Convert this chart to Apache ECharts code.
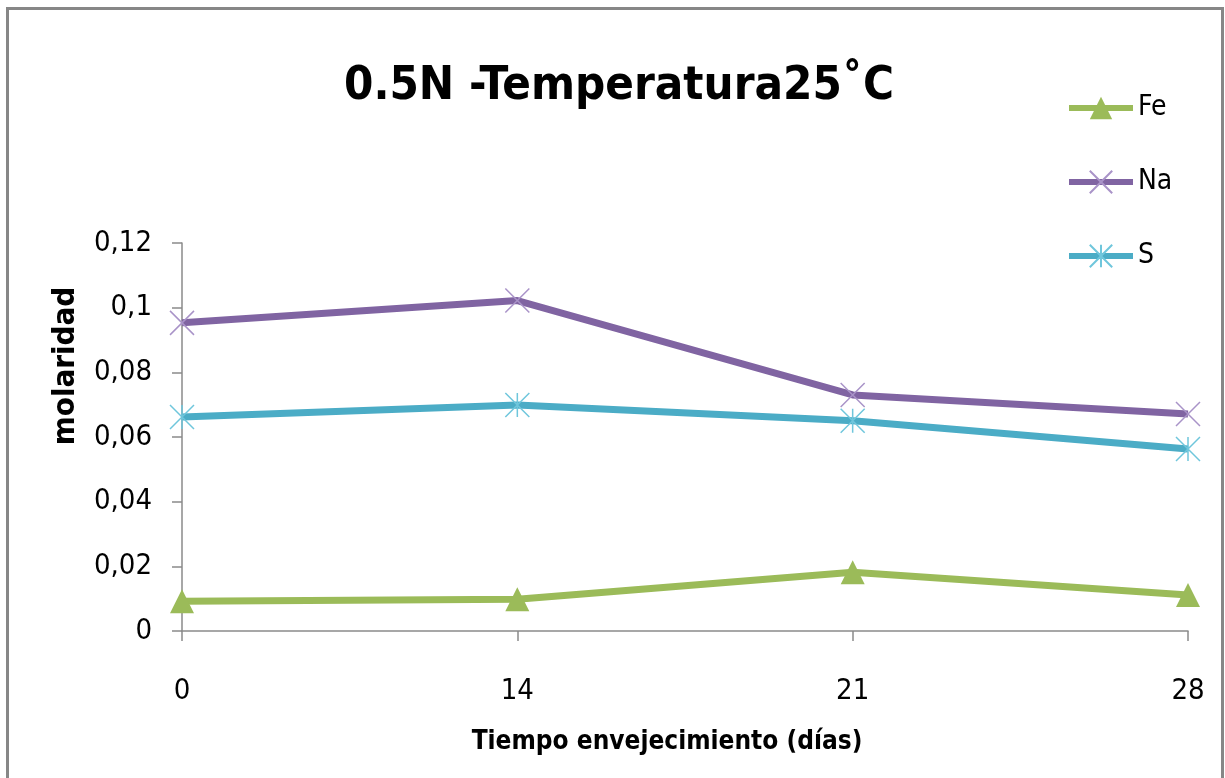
<!DOCTYPE html>
<html><head><meta charset="utf-8">
<script src="https://cdn.jsdelivr.net/npm/echarts@6/dist/echarts.min.js"></script>
<style>html,body{margin:0;padding:0;background:#fff}#c{width:1225px;height:778px}</style>
</head><body><div id="c"></div>
<script>
const categories = ['0', '14', '21', '28'];
const feValues = [0.0092, 0.0098, 0.0182, 0.0111];
const naValues = [0.0953, 0.1022, 0.0730, 0.0671];
const sValues = [0.0662, 0.0699, 0.0650, 0.0563];
const yTicks = [0, 0.02, 0.04, 0.06, 0.08, 0.1, 0.12];
const yLabels = ['0', '0,02', '0,04', '0,06', '0,08', '0,1', '0,12'];

const font = '"DejaVu Sans Condensed", "Open Sans", sans-serif';
const chart = echarts.init(document.getElementById('c'));
const xShape = 'path://M0,0L10,10M10,0L0,10';
const star = 'path://M5,0L5,10M0,0L10,10M10,0L0,10';
chart.setOption({
  animation: false,
  backgroundColor: '#fff',
  title: {
    text: '0.5N -Temperatura25˚C', left: 614, top: 58, textAlign: 'center',
    textStyle: {fontFamily: font, fontSize: 47, fontWeight: 'bold', color: '#000'}
  },
  graphic: [
    {type: 'rect', shape: {x: 7.5, y: 8.5, width: 1215, height: 800},
     style: {fill: 'none', stroke: '#878787', lineWidth: 3}},
    {type: 'text', x: 66, y: 366, rotation: Math.PI / 2,
     style: {text: 'molaridad', fontFamily: font, fontSize: 31, fontWeight: 'bold', fill: '#000',
             align: 'center', verticalAlign: 'middle'}}
  ],
  legend: {
    orient: 'vertical', left: 1061, top: 89, itemWidth: 64, itemHeight: 28, itemGap: 46,
    lineStyle: {width: 6},
    textStyle: {fontFamily: font, fontSize: 28, color: '#000'},
    data: ['Fe', 'Na', 'S']
  },
  grid: {left: 182, right: 37, top: 243, bottom: 147, containLabel: false},
  xAxis: {
    type: 'category', data: categories, boundaryGap: false,
    name: 'Tiempo envejecimiento (días)', nameLocation: 'middle', nameGap: 98,
    nameTextStyle: {fontFamily: font, fontSize: 26, fontWeight: 'bold', color: '#000', padding: [0, 36, 0, 0]},
    axisLine: {lineStyle: {color: '#8a8a8a', width: 1.5}},
    axisTick: {show: true, length: 10, inside: false, alignWithLabel: true, lineStyle: {color: '#8a8a8a', width: 1.5}},
    axisLabel: {fontFamily: font, fontSize: 29, color: '#000', margin: 46}
  },
  yAxis: {
    type: 'value', min: 0, max: 0.12, interval: 0.02,
    axisLine: {show: true, lineStyle: {color: '#8a8a8a', width: 1.5}},
    axisTick: {show: true, length: 10, lineStyle: {color: '#8a8a8a', width: 1.5}},
    splitLine: {show: false},
    axisLabel: {fontFamily: font, fontSize: 29, color: '#000', margin: 30,
      formatter: v => { const i = yTicks.findIndex(t => Math.abs(t - v) < 1e-9); return i >= 0 ? yLabels[i] : ''; }}
  },
  series: [
    {name: 'Fe', type: 'line', data: feValues, symbol: 'triangle', symbolSize: [24, 24],
     lineStyle: {color: '#9bbb59', width: 7}, itemStyle: {color: '#9bbb59', borderWidth: 0}},
    {name: 'Na', type: 'line', data: naValues, symbol: xShape, symbolSize: 24,
     lineStyle: {color: '#8064a2', width: 7}, itemStyle: {color: 'rgba(0,0,0,0)', borderColor: '#a993c8', borderWidth: 1.5}},
    {name: 'S', type: 'line', data: sValues, symbol: star, symbolSize: 24,
     lineStyle: {color: '#4bacc6', width: 7}, itemStyle: {color: 'rgba(0,0,0,0)', borderColor: '#6fc6dc', borderWidth: 1.5}}
  ]
});
</script></body></html>
